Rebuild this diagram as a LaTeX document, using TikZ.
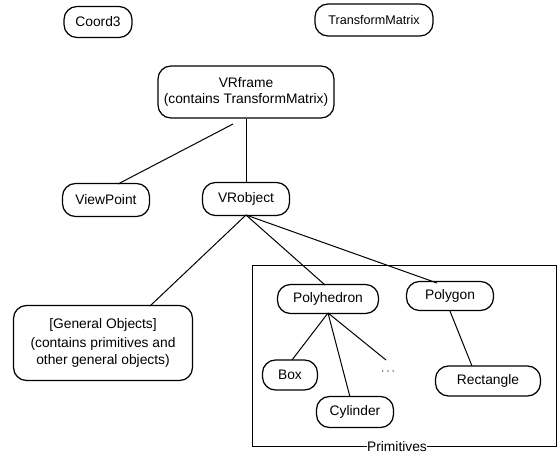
\documentclass[tikz,border=0pt]{standalone}
\usepackage{fontspec}
\setmainfont{Liberation Sans}
\begin{document}
\begin{tikzpicture}[x=1pt,y=-1pt,
  cls/.style={draw, line width=1.25pt, rounded corners=13pt, inner sep=0pt,
    align=center, font=\fontsize{13.8}{16}\selectfont},
  link/.style={line width=1pt}]
\useasboundingbox (0,0) rectangle (557,455);
% classes
\node[cls, minimum width=68pt, minimum height=31pt] (coord) at (98,22) {Coord3};
\node[cls, minimum width=118pt, minimum height=32pt, font=\fontsize{12.6}{15}\selectfont] (tm) at (374,20) {TransformMatrix};
\node[cls, minimum width=176pt, minimum height=52pt] (frame) at (246,92)
  {VRframe\\(contains TransformMatrix)};
\node[cls, minimum width=87pt, minimum height=33pt] (vp) at (106,200) {ViewPoint};
\node[cls, minimum width=87pt, minimum height=33pt] (vro) at (246,199) {VRobject};
\node[cls, minimum width=179pt, minimum height=75pt, font=\fontsize{13.8}{17}\selectfont] (gen) at (103,343)
  {[General Objects]\\[2pt](contains primitives and\\other general objects)};
\node[cls, minimum width=101pt, minimum height=29pt] (polyh) at (328,299) {Polyhedron};
\node[cls, minimum width=87pt, minimum height=29pt] (polyg) at (450,296) {Polygon};
\node[cls, minimum width=55pt, minimum height=30pt] (box) at (290,375) {Box};
\node[cls, minimum width=77pt, minimum height=31pt] (cyl) at (355,412) {Cylinder};
\node[cls, minimum width=105pt, minimum height=30pt] (rect) at (488,381) {Rectangle};
\node[font=\fontsize{12.5}{15}\selectfont] (dots) at (388,372) {$\cdots$};
% primitives frame
\draw[line width=1pt] (252,265) rectangle (556,446);
\node[fill=white, inner sep=0.5pt, font=\fontsize{13.8}{15}\selectfont] (prim) at (397,447) {Primitives};
% connectors
\coordinate (f1) at (233,124);
\coordinate (vpt) at (118,184);
\coordinate (vb) at (246,215);
\coordinate (gt) at (150,306);
\coordinate (pht) at (325,285);
\coordinate (pgt) at (437,283);
\coordinate (pb) at (328,313);
\coordinate (bt) at (292,360);
\coordinate (ct) at (350,397);
\coordinate (dend) at (386,360);
\coordinate (rt) at (472,366);
\draw[link] (f1) -- (vpt);
\draw[link] (frame.south) -- (vro.north);
\draw[link] (vb) -- (gt);
\draw[link] (vb) -- (pht);
\draw[link] (vb) -- (pgt);
\draw[link] (pb) -- (bt);
\draw[link] (pb) -- (ct);
\draw[link] (pb) -- (dend);
\draw[link] (polyg.south) -- (rt);
\end{tikzpicture}
\end{document}
